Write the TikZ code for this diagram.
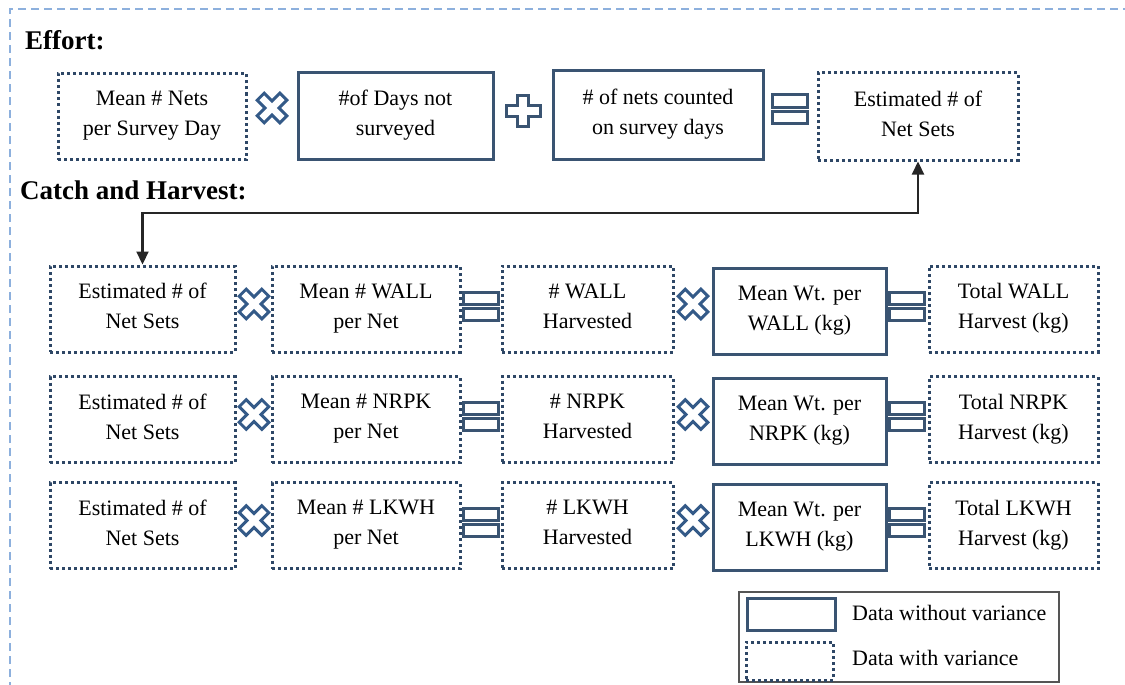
\documentclass[tikz,border=0pt]{standalone}
\usepackage{fontspec}
\setmainfont{Liberation Serif}
\usetikzlibrary{arrows.meta}
\definecolor{boxcol}{HTML}{3A5472}
\definecolor{dotcol}{HTML}{2E4766}
\definecolor{xcol}{HTML}{345A88}
\definecolor{framecol}{HTML}{8DB0DD}
\definecolor{legcol}{HTML}{555555}
\definecolor{arrcol}{HTML}{262626}
\tikzset{
  txt/.style={font=\fontsize{22}{30}\selectfont, align=center, inner sep=0pt,
    execute at end node={\rule[-6pt]{0pt}{0pt}}},
  solidbox/.style={txt, draw=boxcol, line width=3pt, minimum height=86pt},
  dotbox/.style={txt, draw=dotcol, line width=3pt, dash pattern=on 3pt off 3pt, minimum height=86pt},
  head/.style={font=\fontsize{27}{32}\selectfont\bfseries, anchor=base west, inner sep=0pt},
  symline/.style={line width=3pt},
  arr/.style={draw=arrcol, line width=2.2pt, {Triangle[length=13pt,width=12pt]}-{Triangle[length=13pt,width=12pt]}},
  pics/xsym/.style={code={
    \draw[symline, draw=xcol, rotate=45]
      (5,5) -- (16,5) -- (16,-5) -- (5,-5) -- (5,-16) -- (-5,-16) -- (-5,-5) -- (-16,-5)
      -- (-16,5) -- (-5,5) -- (-5,16) -- (5,16) -- cycle;
  }},
  pics/plussym/.style={code={
    \draw[symline, draw=boxcol]
      (5.5,5.5) -- (17,5.5) -- (17,-5.5) -- (5.5,-5.5) -- (5.5,-15.5) -- (-5.5,-15.5) -- (-5.5,-5.5) -- (-17,-5.5)
      -- (-17,5.5) -- (-5.5,5.5) -- (-5.5,15.5) -- (5.5,15.5) -- cycle;
  }},
  pics/eqsym/.style={code={
    \draw[symline, draw=boxcol] (-17.5,-14) rectangle (17.5,-2);
    \draw[symline, draw=boxcol] (-17.5,2) rectangle (17.5,14);
  }}
}
\begin{document}
\begin{tikzpicture}[x=1pt,y=-1pt]
\useasboundingbox (0,0) rectangle (1125,685);
% outer dashed frame
\draw[framecol, line width=1.8pt, dash pattern=on 8pt off 5pt] (10,690) -- (10,9) -- (1130,9);

% headers
\node[head] (heffort) at (25,50) {Effort:};
\node[head] (hcatch) at (20,199) {Catch and Harvest:};

% effort row
\node[dotbox, minimum width=188pt] (e1) at (152,116.5) {Mean \# Nets\\per Survey Day};
\node[solidbox, minimum width=195pt] (e2) at (395.5,116) {\#of Days not\\surveyed};
\node[solidbox, minimum width=210pt, minimum height=88pt] (e3) at (658,115) {\# of nets counted\\on survey days};
\node[dotbox, minimum width=200pt, minimum height=87pt] (e4) at (918,116.5) {Estimated \# of\\Net Sets};
\pic at (272,108) {xsym};
\pic at (523,111) {plussym};
\pic at (790,109) {eqsym};

% catch rows
\foreach \sp/\dy/\r in {WALL/0/1, NRPK/110.5/2, LKWH/216.5/3}{
  \node[dotbox, minimum width=185pt] (r\r c1) at (142.5,309+\dy) {Estimated \# of\\Net Sets};
  \node[dotbox, minimum width=188pt] (r\r c2) at (366,309+\dy) {Mean \# \sp\\per Net};
  \node[dotbox, minimum width=171pt] (r\r c3) at (587.5,309+\dy) {\# \sp\\Harvested};
  \node[solidbox, minimum width=173pt] (r\r c4) at (799.5,311+\dy) {Mean Wt. per\\\sp\ (kg)};
  \node[dotbox, minimum width=169pt] (r\r c5) at (1013.5,309+\dy) {Total \sp\\Harvest (kg)};
  \pic at (254,304+\dy) {xsym};
  \pic at (481,306+\dy) {eqsym};
  \pic at (693,304+\dy) {xsym};
  \pic at (907,306+\dy) {eqsym};
}

% connector
\coordinate (turn) at (0,213);
\draw[arr] (r1c1.north) -- (r1c1.north |- turn) -- (e4.south |- turn) -- (e4.south);

% legend
\node[draw=legcol, line width=1.5pt, minimum width=320pt, minimum height=90pt, inner sep=0pt] (leg) at (899,637) {};
\node[draw=boxcol, line width=3pt, minimum width=88pt, minimum height=32pt, inner sep=0pt] (legsolid) at (791,614) {};
\node[draw=dotcol, line width=3pt, dash pattern=on 3pt off 3pt, minimum width=87pt, minimum height=38pt, inner sep=0pt] (legdot) at (789.5,661) {};
\node[font=\fontsize{22}{30}\selectfont, anchor=west, inner sep=0pt] (legt1) at (852,613) {Data without variance};
\node[font=\fontsize{22}{30}\selectfont, anchor=west, inner sep=0pt] (legt2) at (852,658) {Data with variance};
\end{tikzpicture}
\end{document}
